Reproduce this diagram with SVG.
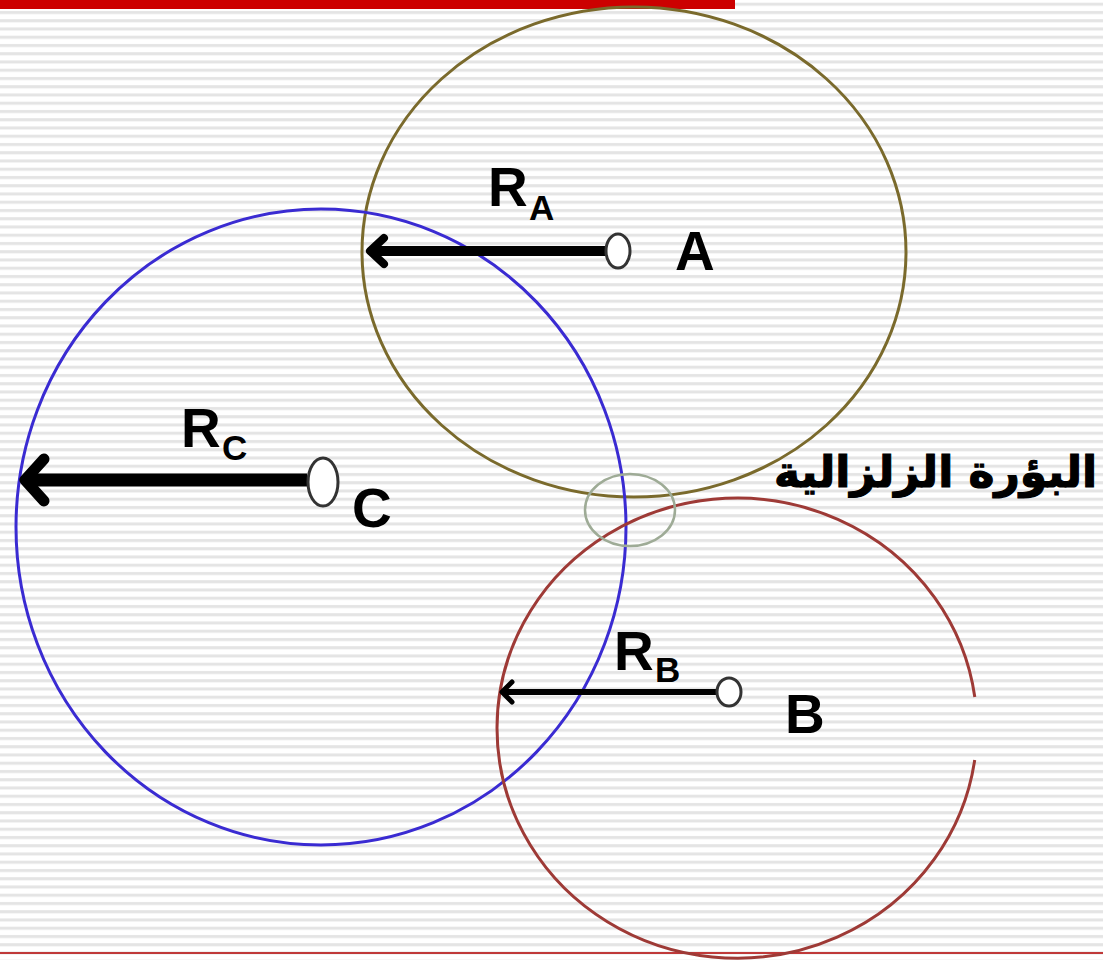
<svg xmlns="http://www.w3.org/2000/svg" width="1103" height="960" viewBox="0 0 1103 960">
  <defs>
    <pattern id="stripes" x="0" y="10" width="20" height="8.25" patternUnits="userSpaceOnUse">
      <rect x="0" y="0" width="20" height="8.25" fill="#ffffff"/>
      <rect x="0" y="1" width="20" height="3" fill="#e4e4e4"/>
    </pattern>
  </defs>
  <style>
    .lbl { font-family: "Liberation Sans", Arial, sans-serif; font-weight: bold; fill: #000; }
    .big { font-size: 55px; }
    .sub { font-size: 35px; }
    .ring { fill: none; stroke-width: 3; }
    .shaft { stroke: #000; fill: none; stroke-linecap: butt; }
    .head { stroke: #000; fill: none; stroke-linecap: round; stroke-linejoin: round; }
    .dot { fill: #ffffff; stroke: #333; stroke-width: 3; }
    .ar { font-family: "DejaVu Sans", sans-serif; font-weight: bold; font-size: 44px; fill: #000; stroke: #000; stroke-width: 1.2; }
  </style>

  <rect x="0" y="0" width="1103" height="960" fill="url(#stripes)"/>
  <rect x="0" y="0" width="735" height="9" fill="#cc0000"/>
  <line x1="0" y1="953" x2="1103" y2="953" stroke="#b30000" stroke-width="1.5"/>

  <g id="circle-A">
    <ellipse class="ring" cx="634" cy="252" rx="272" ry="245" stroke="#7a6a2c"/>
  </g>
  <g id="circle-C">
    <ellipse class="ring" cx="321" cy="527" rx="305" ry="318" stroke="#3a2bd2"/>
  </g>
  <g id="circle-B">
    <path class="ring" d="M 974.8 697 A 240 230 0 1 0 974.7 760" stroke="#9e3a36"/>
  </g>
  <g id="focus">
    <ellipse cx="630" cy="510" rx="45" ry="36" fill="none" stroke="#9eab96" stroke-width="2.5"/>
    <text class="ar" x="1097" y="487" text-anchor="end">البؤرة الزلزالية</text>
  </g>

  <g id="connectors">
    <line class="shaft" x1="606" y1="251" x2="372" y2="251" stroke-width="10"/>
    <polyline class="head" points="384,238 370,251 384,264" stroke-width="8"/>
    <line class="shaft" x1="307" y1="480" x2="28" y2="480" stroke-width="13"/>
    <polyline class="head" points="44,459 25,480 44,501" stroke-width="11"/>
    <line class="shaft" x1="717" y1="692" x2="504" y2="692" stroke-width="6"/>
    <polyline class="head" points="512,682 502,692 512,702" stroke-width="5"/>
  </g>

  <g id="node-A">
    <ellipse class="dot" cx="618" cy="251" rx="12" ry="17"/>
    <text class="lbl big" x="675" y="270">A</text>
    <text class="lbl big" x="488" y="206">R</text>
    <text class="lbl sub" x="529" y="220">A</text>
  </g>
  <g id="node-C">
    <ellipse class="dot" cx="323" cy="482" rx="15" ry="24"/>
    <text class="lbl big" x="352" y="527">C</text>
    <text class="lbl big" x="181" y="447">R</text>
    <text class="lbl sub" x="222" y="460">C</text>
  </g>
  <g id="node-B">
    <ellipse class="dot" cx="729" cy="692" rx="12" ry="14"/>
    <text class="lbl big" x="785" y="733">B</text>
    <text class="lbl big" x="614" y="670">R</text>
    <text class="lbl sub" x="655" y="682">B</text>
  </g>
</svg>
